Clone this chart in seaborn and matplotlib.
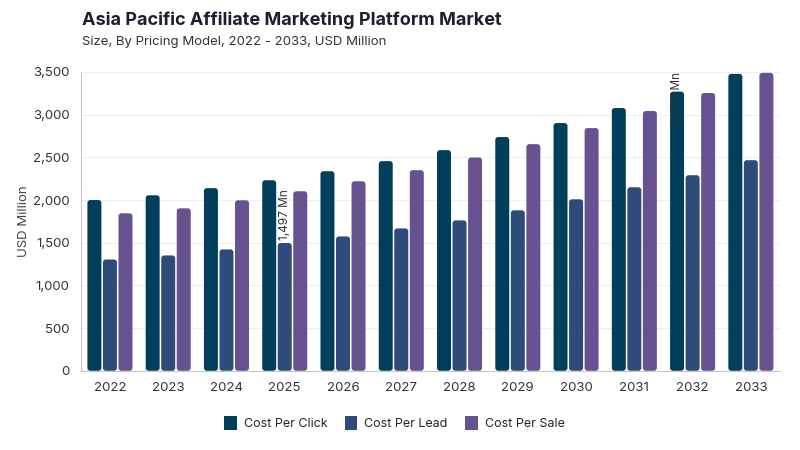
import matplotlib
matplotlib.use("Agg")
import matplotlib.pyplot as plt
from matplotlib.patches import FancyBboxPatch, Patch
from matplotlib.ticker import FuncFormatter
import pandas as pd
import seaborn as sns

years = ["2022", "2023", "2024", "2025", "2026", "2027", "2028", "2029", "2030", "2031", "2032", "2033"]
cost_per_click = [2000, 2056, 2140, 2232, 2338, 2456, 2585, 2738, 2902, 3078, 3270, 3478]
cost_per_lead = [1304, 1351, 1422, 1497, 1574, 1668, 1762, 1880, 2009, 2150, 2291, 2467]
cost_per_sale = [1845, 1903, 1997, 2103, 2220, 2350, 2498, 2655, 2843, 3043, 3254, 3490]
series = ["Cost Per Click", "Cost Per Lead", "Cost Per Sale"]
colors = ["#003f5c", "#2f4b7c", "#665191"]

df = pd.DataFrame({"Year": years, "Cost Per Click": cost_per_click,
                   "Cost Per Lead": cost_per_lead, "Cost Per Sale": cost_per_sale})
long = df.melt(id_vars="Year", var_name="Model", value_name="Value")

sns.set_style("white")
plt.rcParams["font.family"] = ["Inter", "DejaVu Sans"]

fig = plt.figure(figsize=(8, 4.5), dpi=100)
ax = fig.add_axes([0.101, 0.176, 0.874, 0.664])

sns.barplot(data=long, x="Year", y="Value", hue="Model", hue_order=series,
            palette=colors, width=0.8, gap=0.1, ax=ax, legend=False,
            saturation=1)

ax.set_ylim(0, 3500)
ax.set_xlim(-0.5, len(years) - 0.5)
ax.set_yticks(range(0, 3501, 500))
ax.yaxis.set_major_formatter(FuncFormatter(lambda v, p: f"{int(v):,}"))
ax.grid(axis="y", color="#eeeeee", linewidth=0.8)
ax.set_axisbelow(True)
for s in ["top", "right"]:
    ax.spines[s].set_visible(False)
for s in ["left", "bottom"]:
    ax.spines[s].set_color("#c8c8c8")
    ax.spines[s].set_linewidth(0.8)
ax.tick_params(axis="both", labelsize=9.5, colors="#333333", length=0, pad=8)
ax.set_xlabel("")
ax.set_ylabel("USD Million", fontsize=9.5, color="#444444", labelpad=2)

# rounded bar tops
fig.canvas.draw()
bbox = ax.get_window_extent()
px_x = bbox.width / (len(years))
px_y = bbox.height / 3500
aspect = px_x / px_y
for p in list(ax.patches):
    x, y = p.get_x(), p.get_y()
    w, h = p.get_width(), p.get_height()
    fc = p.get_facecolor()
    p.remove()
    ax.add_patch(FancyBboxPatch((x, y), w, h,
                                boxstyle="round,pad=0,rounding_size=0.05",
                                mutation_aspect=aspect, facecolor=fc,
                                edgecolor="none", zorder=2))

# annotations
bw = 0.8 / 3
ax.text(3, cost_per_lead[3] + 40, f"{cost_per_lead[3]:,} Mn", rotation=90,
        ha="center", va="bottom", fontsize=8.5, color="#333333")
ax.text(10 - bw, cost_per_click[10] - 80, f"{cost_per_click[10]:,} Mn", rotation=90,
        ha="center", va="center", fontsize=8.5, color="#333333")

fig.text(0.102, 0.945, "Asia Pacific Affiliate Marketing Platform Market",
         fontsize=13, fontweight="bold", color="#1e1e2e")
fig.text(0.102, 0.9, "Size, By Pricing Model, 2022 - 2033, USD Million",
         fontsize=9.5, color="#333333")

handles = [Patch(facecolor=c, edgecolor="none") for c in colors]
fig.legend(handles, series, loc="center", bbox_to_anchor=(0.493, 0.06), ncol=3,
           frameon=False, fontsize=9, handlelength=1.0, handleheight=1.4,
           columnspacing=1.4, handletextpad=0.55)

fig.savefig("out.png", dpi=100)
